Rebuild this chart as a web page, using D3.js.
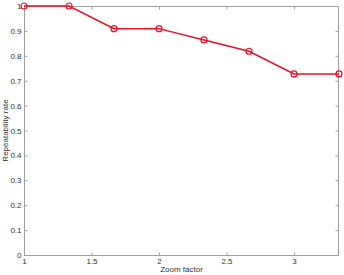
<!DOCTYPE html>
<html>
<head>
<meta charset="utf-8">
<script src="https://cdn.jsdelivr.net/npm/d3@7"></script>
<style>
  body { margin: 0; background: #fff; }
  svg { display: block; font-family: "Liberation Sans", Arial, sans-serif; }
</style>
</head>
<body>
<svg id="chart" width="344" height="275"></svg>
<script>
const zoomFactors = [1, 4 / 3, 5 / 3, 2, 7 / 3, 8 / 3, 3, 10 / 3];
const repeatRates = [1, 1, 10 / 11, 10 / 11, 19 / 22, 9 / 11, 8 / 11, 8 / 11];
const xTicks = [1, 1.5, 2, 2.5, 3];
const yTicks = [0, 0.1, 0.2, 0.3, 0.4, 0.5, 0.6, 0.7, 0.8, 0.9, 1];

const w = 344, h = 275, m = { t: 6, r: 5, b: 20, l: 24 };
const svg = d3.select("#chart");

const x = d3.scaleLinear().domain([1, 10 / 3]).range([m.l, w - m.r]);
const y = d3.scaleLinear().domain([0, 1]).range([h - m.b, m.t]);
const axisColor = "#a0a0a0";

// box
svg.append("rect")
  .attr("x", m.l + 0.5).attr("y", m.t + 0.5)
  .attr("width", w - m.l - m.r - 1).attr("height", h - m.t - m.b)
  .attr("fill", "none").attr("stroke", axisColor);

const styleAxis = g => {
  g.select(".domain").remove();
  g.selectAll("line").attr("stroke", axisColor);
  g.selectAll("text").attr("fill", "#333").style("font-size", "8px");
};

svg.append("g").attr("transform", `translate(0,${h - m.b + 0.5})`)
  .call(d3.axisBottom(x).tickValues(xTicks).tickSize(-3).tickPadding(3).tickFormat(d3.format("")))
  .call(styleAxis);
svg.append("g").attr("transform", `translate(0,${m.t + 0.5})`)
  .call(d3.axisTop(x).tickValues(xTicks).tickSize(-3).tickFormat(""))
  .call(styleAxis);
svg.append("g").attr("transform", `translate(${m.l + 0.5},0)`)
  .call(d3.axisLeft(y).tickValues(yTicks).tickSize(-3).tickPadding(3).tickFormat(d3.format("")))
  .call(styleAxis);
svg.append("g").attr("transform", `translate(${w - m.r - 0.5},0)`)
  .call(d3.axisRight(y).tickValues(yTicks).tickSize(-3).tickFormat(""))
  .call(styleAxis);

const data = zoomFactors.map((z, i) => ({ z, r: repeatRates[i] }));
const line = d3.line().x(d => x(d.z)).y(d => y(d.r));
svg.append("path").datum(data)
  .attr("fill", "none").attr("stroke", "#e8102a").attr("stroke-width", 1.5).attr("d", line);
svg.selectAll("circle.pt").data(data).join("circle")
  .attr("class", "pt")
  .attr("cx", d => x(d.z)).attr("cy", d => y(d.r)).attr("r", 3)
  .attr("fill", "none").attr("stroke", "#e8102a").attr("stroke-width", 1.2);

svg.append("text")
  .attr("x", (m.l + w - m.r) / 2).attr("y", h - 3)
  .attr("text-anchor", "middle").attr("fill", "#333").style("font-size", "8px")
  .text("Zoom factor");
svg.append("text")
  .attr("transform", `translate(8,${(m.t + h - m.b) / 2}) rotate(-90)`)
  .attr("text-anchor", "middle").attr("fill", "#333").style("font-size", "8px")
  .text("Repeatability rate");
</script>
</body>
</html>
